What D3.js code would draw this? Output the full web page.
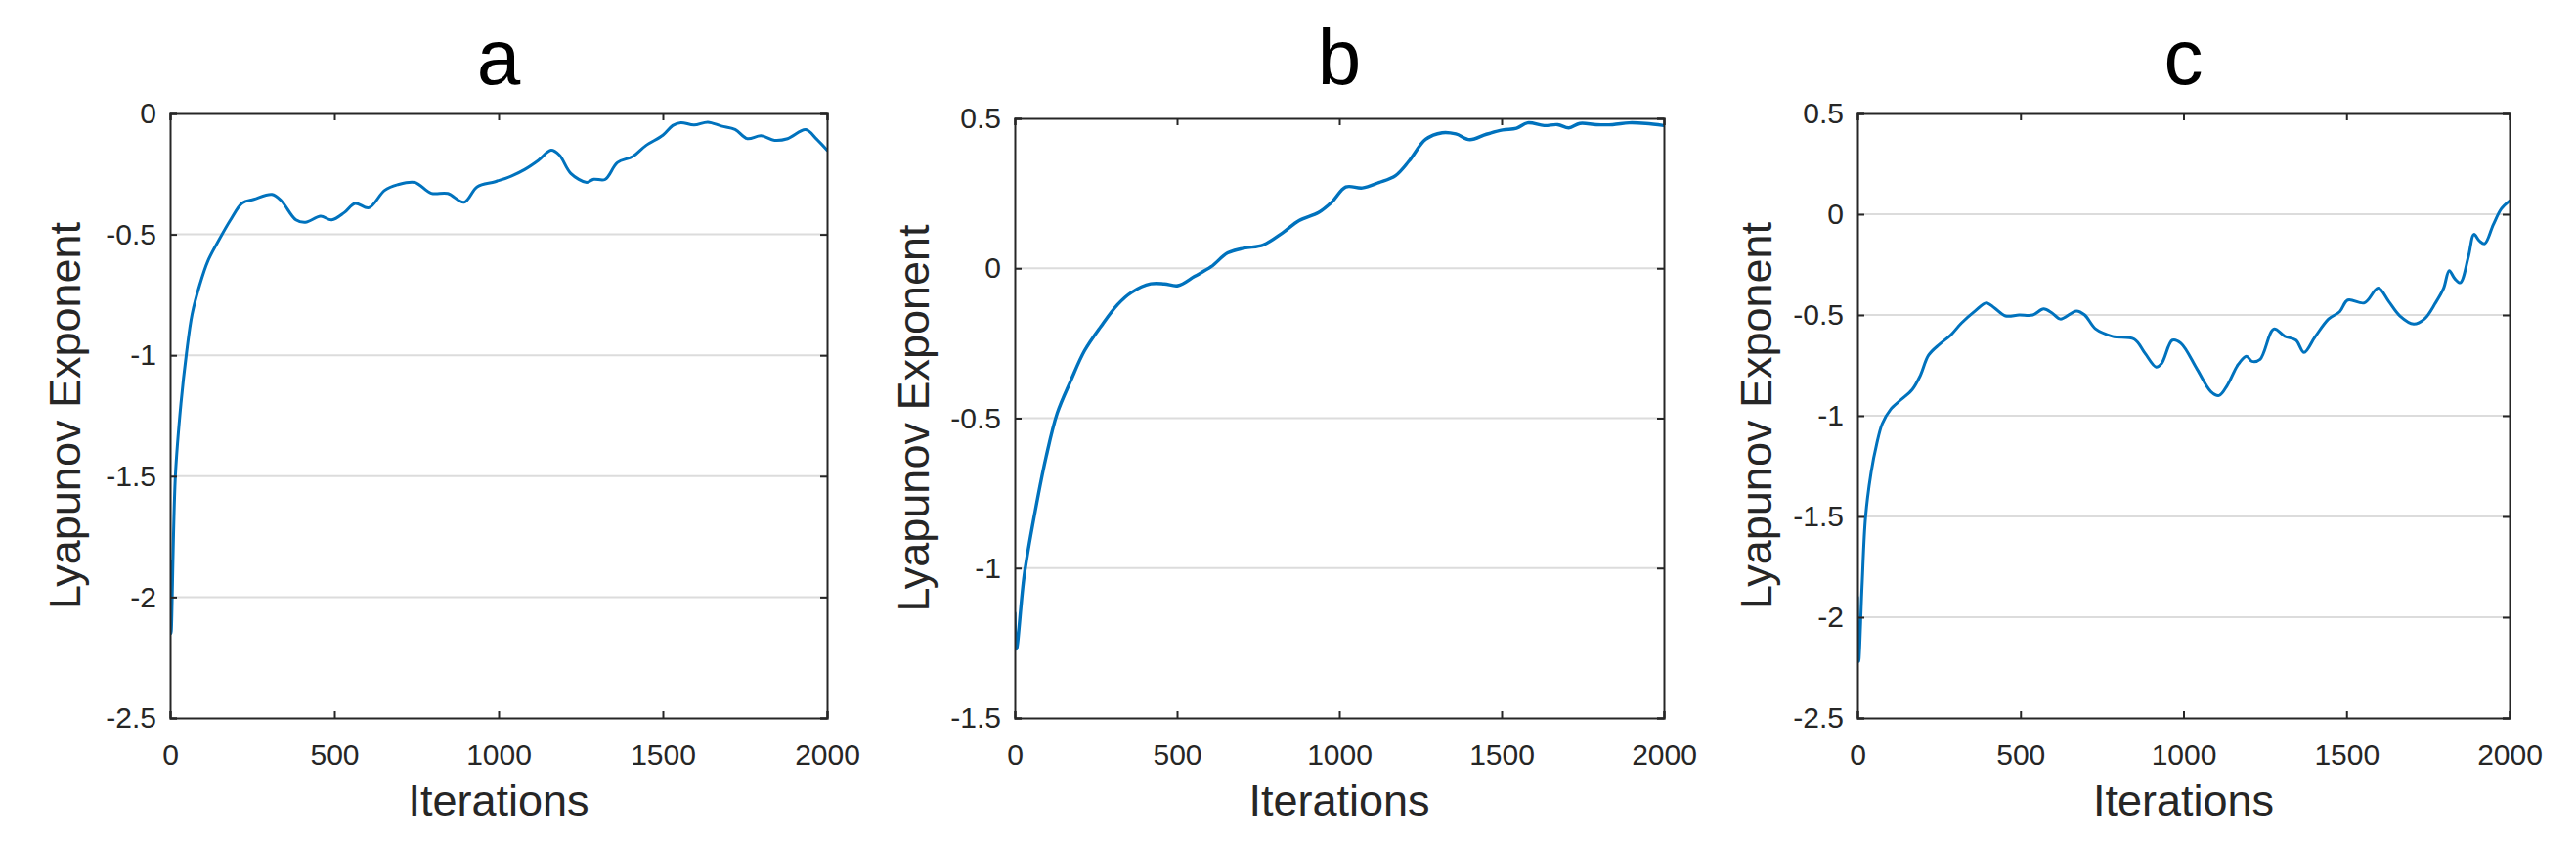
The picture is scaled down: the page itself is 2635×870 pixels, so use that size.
<!DOCTYPE html>
<html>
<head>
<meta charset="utf-8">
<script src="https://cdn.jsdelivr.net/npm/d3@7"></script>
<style>
  html, body { margin: 0; padding: 0; background: #fff; }
  svg { display: block; }
</style>
</head>
<body>
<svg id="chart" width="2635" height="870"></svg>
<script>
// ---------- data ----------
const titles = ["a", "b", "c"];
const xLabel = "Iterations";
const yLabel = "Lyapunov Exponent";
const xTicks = [0, 500, 1000, 1500, 2000];
const yTicksA = [-2.5, -2, -1.5, -1, -0.5, 0];
const yTicksB = [-1.5, -1, -0.5, 0, 0.5];
const yTicksC = [-2.5, -2, -1.5, -1, -0.5, 0, 0.5];

const iterA = [0,3,16,33,50,67,90,115,150,184,220,255,310,338,383,412,458,492,530,563,605,653,692,745,795,845,895,935,990,1040,1079,1121,1160,1185,1220,1268,1290,1324,1362,1408,1449,1500,1530,1555,1595,1637,1678,1720,1757,1799,1840,1880,1935,1968,2000];
const valA  = [-1.85,-2.15,-1.5,-1.2,-0.99,-0.83,-0.71,-0.61,-0.52,-0.44,-0.37,-0.355,-0.335,-0.36,-0.44,-0.45,-0.425,-0.44,-0.41,-0.372,-0.39,-0.318,-0.295,-0.285,-0.33,-0.331,-0.367,-0.303,-0.282,-0.258,-0.232,-0.194,-0.152,-0.172,-0.248,-0.285,-0.272,-0.273,-0.203,-0.178,-0.132,-0.09,-0.05,-0.038,-0.048,-0.036,-0.052,-0.066,-0.104,-0.092,-0.111,-0.104,-0.067,-0.106,-0.152];

const iterB = [0,5,29,63,97,131,173,215,266,317,359,419,461,503,554,605,656,707,766,825,876,936,978,1020,1071,1122,1173,1215,1266,1317,1359,1402,1453,1503,1546,1580,1631,1673,1707,1741,1792,1842,1893,1944,2000];
const valB  = [-1.15,-1.27,-1.025,-0.81,-0.627,-0.483,-0.374,-0.275,-0.193,-0.121,-0.081,-0.052,-0.052,-0.058,-0.027,0.005,0.051,0.067,0.078,0.118,0.159,0.186,0.222,0.271,0.268,0.286,0.309,0.358,0.43,0.452,0.448,0.429,0.447,0.461,0.467,0.485,0.476,0.479,0.468,0.483,0.479,0.479,0.485,0.483,0.476];

const iterC = [0,4,14,25,42,59,76,101,134,168,193,218,252,286,319,361,395,420,454,496,538,571,597,622,672,697,731,782,849,882,916,933,966,992,1042,1084,1109,1134,1168,1193,1210,1235,1277,1311,1345,1370,1403,1445,1479,1504,1555,1597,1630,1664,1706,1739,1773,1798,1815,1832,1849,1874,1891,1908,1924,1950,1975,2000];
const valC  = [-1.9,-2.22,-1.85,-1.5,-1.28,-1.14,-1.04,-0.97,-0.92,-0.87,-0.8,-0.7,-0.645,-0.6,-0.54,-0.48,-0.44,-0.465,-0.505,-0.5,-0.5,-0.47,-0.49,-0.52,-0.48,-0.5,-0.57,-0.606,-0.62,-0.69,-0.758,-0.74,-0.625,-0.64,-0.77,-0.88,-0.9,-0.85,-0.745,-0.705,-0.73,-0.72,-0.57,-0.606,-0.625,-0.686,-0.61,-0.52,-0.484,-0.426,-0.44,-0.367,-0.434,-0.505,-0.545,-0.52,-0.44,-0.367,-0.28,-0.32,-0.34,-0.21,-0.1,-0.133,-0.146,-0.053,0.027,0.066];

// ---------- layout ----------
const panels = [
  { title: titles[0], iters: iterA, vals: valA, yTicks: yTicksA, box: { l: 174, r: 846, t: 116, b: 734 }, ylabX: 66 },
  { title: titles[1], iters: iterB, vals: valB, yTicks: yTicksB, box: { l: 1038, r: 1702, t: 121, b: 734 }, ylabX: 934 },
  { title: titles[2], iters: iterC, vals: valC, yTicks: yTicksC, box: { l: 1900, r: 2567, t: 116, b: 734 }, ylabX: 1796 }
];

const FONT = "'Liberation Sans', Arial, Helvetica, sans-serif";
const AXC = "#262626";
const LINEC = "#0072BD";
const svg = d3.select("#chart");

const fmt = v => (v === 0 ? "0" : String(v));

panels.forEach((p, i) => {
  const { l, r, t, b } = p.box;
  const x = d3.scaleLinear().domain([0, 2000]).range([l, r]);
  const y = d3.scaleLinear().domain(d3.extent(p.yTicks)).range([b, t]);
  const g = svg.append("g");

  // grid lines
  g.append("g").selectAll("line").data(p.yTicks.filter(v => v !== y.domain()[0] && v !== y.domain()[1]))
    .join("line")
    .attr("x1", l).attr("x2", r)
    .attr("y1", d => y(d)).attr("y2", d => y(d))
    .attr("stroke", "#dcdcdc").attr("stroke-width", 2);

  // clip
  svg.append("defs").append("clipPath").attr("id", "clip" + i)
    .append("rect").attr("x", l).attr("y", t).attr("width", r - l).attr("height", b - t);

  // data line
  const pts = p.iters.map((it, k) => [it, p.vals[k]]);
  const line = d3.line().x(d => x(d[0])).y(d => y(d[1])).curve(d3.curveCatmullRom.alpha(0.5));
  g.append("path").datum(pts)
    .attr("d", line)
    .attr("clip-path", `url(#clip${i})`)
    .attr("fill", "none").attr("stroke", LINEC).attr("stroke-width", i === 1 ? 3.4 : 3)
    .attr("stroke-linejoin", "round").attr("stroke-linecap", "round");

  // axes (inward ticks on all sides)
  const tickLen = 7;
  const axB = d3.axisBottom(x).tickValues(xTicks).tickSize(-tickLen).tickPadding(27).tickFormat(fmt);
  const axT = d3.axisTop(x).tickValues(xTicks).tickSize(-tickLen).tickFormat("");
  const axL = d3.axisLeft(y).tickValues(p.yTicks).tickSize(-tickLen).tickPadding(14).tickFormat(fmt);
  const axR = d3.axisRight(y).tickValues(p.yTicks).tickSize(-tickLen).tickFormat("");

  const styleAxis = sel => {
    sel.select(".domain").attr("stroke", AXC).attr("stroke-width", 2);
    sel.selectAll(".tick line").attr("stroke", AXC).attr("stroke-width", 2);
    sel.selectAll(".tick text").attr("fill", AXC).attr("font-family", FONT).attr("font-size", 30);
  };
  g.append("g").attr("transform", `translate(0,${b})`).call(axB).call(styleAxis);
  g.append("g").attr("transform", `translate(0,${t})`).call(axT).call(styleAxis);
  g.append("g").attr("transform", `translate(${l},0)`).call(axL).call(styleAxis);
  g.append("g").attr("transform", `translate(${r},0)`).call(axR).call(styleAxis);

  // title
  g.append("text").attr("x", (l + r) / 2).attr("y", 86)
    .attr("text-anchor", "middle").attr("font-family", FONT).attr("font-size", 80).attr("fill", "#000")
    .text(p.title);

  // x label
  g.append("text").attr("x", (l + r) / 2).attr("y", 834)
    .attr("text-anchor", "middle").attr("font-family", FONT).attr("font-size", 45).attr("fill", AXC)
    .text(xLabel);

  // y label
  g.append("text")
    .attr("transform", `translate(${p.ylabX},${(t + b) / 2}) rotate(-90)`)
    .attr("text-anchor", "middle").attr("dy", "0.35em")
    .attr("font-family", FONT).attr("font-size", 45).attr("fill", AXC)
    .text(yLabel);
});
</script>
</body>
</html>
